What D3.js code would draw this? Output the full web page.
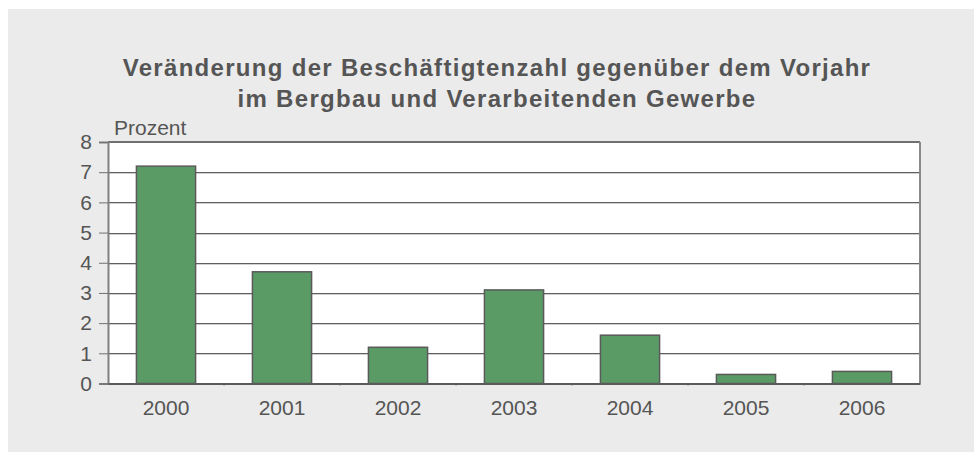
<!DOCTYPE html>
<html>
<head>
<meta charset="utf-8">
<script src="https://cdn.jsdelivr.net/npm/d3@7"></script>
<style>
  body { margin: 0; background: #fff; }
  svg { display: block; font-family: "Liberation Sans", Arial, sans-serif; }
</style>
</head>
<body>
<script>
// data
var years = ["2000", "2001", "2002", "2003", "2004", "2005", "2006"];
var values = [7.2, 3.7, 1.2, 3.1, 1.6, 0.3, 0.4];
var yTicks = [0, 1, 2, 3, 4, 5, 6, 7, 8];
var titleLines = ["Veränderung der Beschäftigtenzahl gegenüber dem Vorjahr",
                  "im Bergbau und Verarbeitenden Gewerbe"];
var unitLabel = "Prozent";

var svgWidth = 974;
var svgHeight = 452;

// plot area
var margin = { top: 142, right: 54, bottom: 68, left: 108 };
var chartWidth = svgWidth - margin.left - margin.right;
var chartHeight = svgHeight - margin.top - margin.bottom - 0.5;

var svg = d3.select("body")
  .append("svg")
  .attr("width", svgWidth)
  .attr("height", svgHeight);

// grey panel
svg.append("rect")
  .attr("x", 8)
  .attr("y", 9)
  .attr("width", svgWidth - 8)
  .attr("height", svgHeight - 9)
  .attr("fill", "#ebebeb");

// title
svg.append("g").selectAll("text")
  .data(titleLines)
  .enter()
  .append("text")
  .attr("x", 497)
  .attr("y", (d, i) => 76 + i * 31)
  .attr("text-anchor", "middle")
  .attr("font-size", 24)
  .attr("font-weight", "bold")
  .attr("letter-spacing", 1.3)
  .attr("fill", "#555")
  .text(d => d);

var chartGroup = svg.append("g")
  .attr("transform", `translate(${margin.left}, ${margin.top})`);

var xBandScale = d3.scaleBand()
  .domain(years)
  .range([0, chartWidth])
  .paddingInner(0.49)
  .paddingOuter(0.245);

var xOuter = d3.scaleBand()
  .domain(years)
  .range([0, chartWidth]);

var yLinearScale = d3.scaleLinear()
  .domain([0, 8])
  .range([chartHeight, 0]);

// white plot background
chartGroup.append("rect")
  .attr("width", chartWidth)
  .attr("height", chartHeight)
  .attr("fill", "#fff");

// gridlines (dark line with a light shadow below)
var grid = chartGroup.append("g");
grid.selectAll(".shadow")
  .data(yTicks.slice(1, -1))
  .enter()
  .append("line")
  .attr("class", "shadow")
  .attr("x1", 0)
  .attr("x2", chartWidth)
  .attr("y1", d => Math.round(yLinearScale(d)) + 1.5)
  .attr("y2", d => Math.round(yLinearScale(d)) + 1.5)
  .attr("stroke", "#d0d0d0");
grid.selectAll(".major")
  .data(yTicks.slice(1, -1))
  .enter()
  .append("line")
  .attr("class", "major")
  .attr("x1", 0)
  .attr("x2", chartWidth)
  .attr("y1", d => Math.round(yLinearScale(d)) + 0.5)
  .attr("y2", d => Math.round(yLinearScale(d)) + 0.5)
  .attr("stroke", "#5f5f5f");

// bars
chartGroup.selectAll(".bar")
  .data(values)
  .enter()
  .append("rect")
  .attr("class", "bar")
  .attr("x", (d, i) => xBandScale(years[i]))
  .attr("y", d => yLinearScale(d))
  .attr("width", xBandScale.bandwidth())
  .attr("height", d => chartHeight - yLinearScale(d))
  .attr("fill", "#5a9a64")
  .attr("stroke", "#5a5a5a")
  .attr("stroke-width", 1.5);

// frame: top, right
chartGroup.append("line")
  .attr("x1", 0).attr("x2", chartWidth)
  .attr("y1", 0).attr("y2", 0)
  .attr("stroke", "#707070").attr("stroke-width", 2);
chartGroup.append("line")
  .attr("x1", chartWidth).attr("x2", chartWidth)
  .attr("y1", 0).attr("y2", chartHeight)
  .attr("stroke", "#8a8a8a").attr("stroke-width", 2);

// left axis
var leftAxis = d3.axisLeft(yLinearScale)
  .tickValues(yTicks)
  .tickSize(9)
  .tickPadding(7);
var yAxisG = chartGroup.append("g").call(leftAxis);
yAxisG.select(".domain").attr("stroke", "#808080").attr("stroke-width", 2);
yAxisG.selectAll(".tick line").attr("stroke", "#707070");
yAxisG.selectAll(".tick text")
  .attr("font-size", 21)
  .attr("font-family", "Liberation Sans, Arial, sans-serif")
  .attr("fill", "#555");

// bottom axis
var bottomAxis = d3.axisBottom(xOuter).tickSize(0).tickPadding(17);
var xAxisG = chartGroup.append("g")
  .attr("transform", `translate(0, ${chartHeight})`)
  .call(bottomAxis);
xAxisG.select(".domain").attr("stroke", "#5a5a5a").attr("stroke-width", 2);
xAxisG.selectAll(".tick text")
  .attr("font-size", 21)
  .attr("font-family", "Liberation Sans, Arial, sans-serif")
  .attr("fill", "#555");

// small marks between categories
xAxisG.selectAll(".sep")
  .data(years.slice(1))
  .enter()
  .append("line")
  .attr("class", "sep")
  .attr("x1", d => xOuter(d))
  .attr("x2", d => xOuter(d))
  .attr("y1", 0)
  .attr("y2", 2)
  .attr("stroke", "#5a5a5a");

// unit label
svg.append("text")
  .attr("x", 114)
  .attr("y", 135)
  .attr("font-size", 21)
  .attr("fill", "#555")
  .text(unitLabel);
</script>
</body>
</html>
